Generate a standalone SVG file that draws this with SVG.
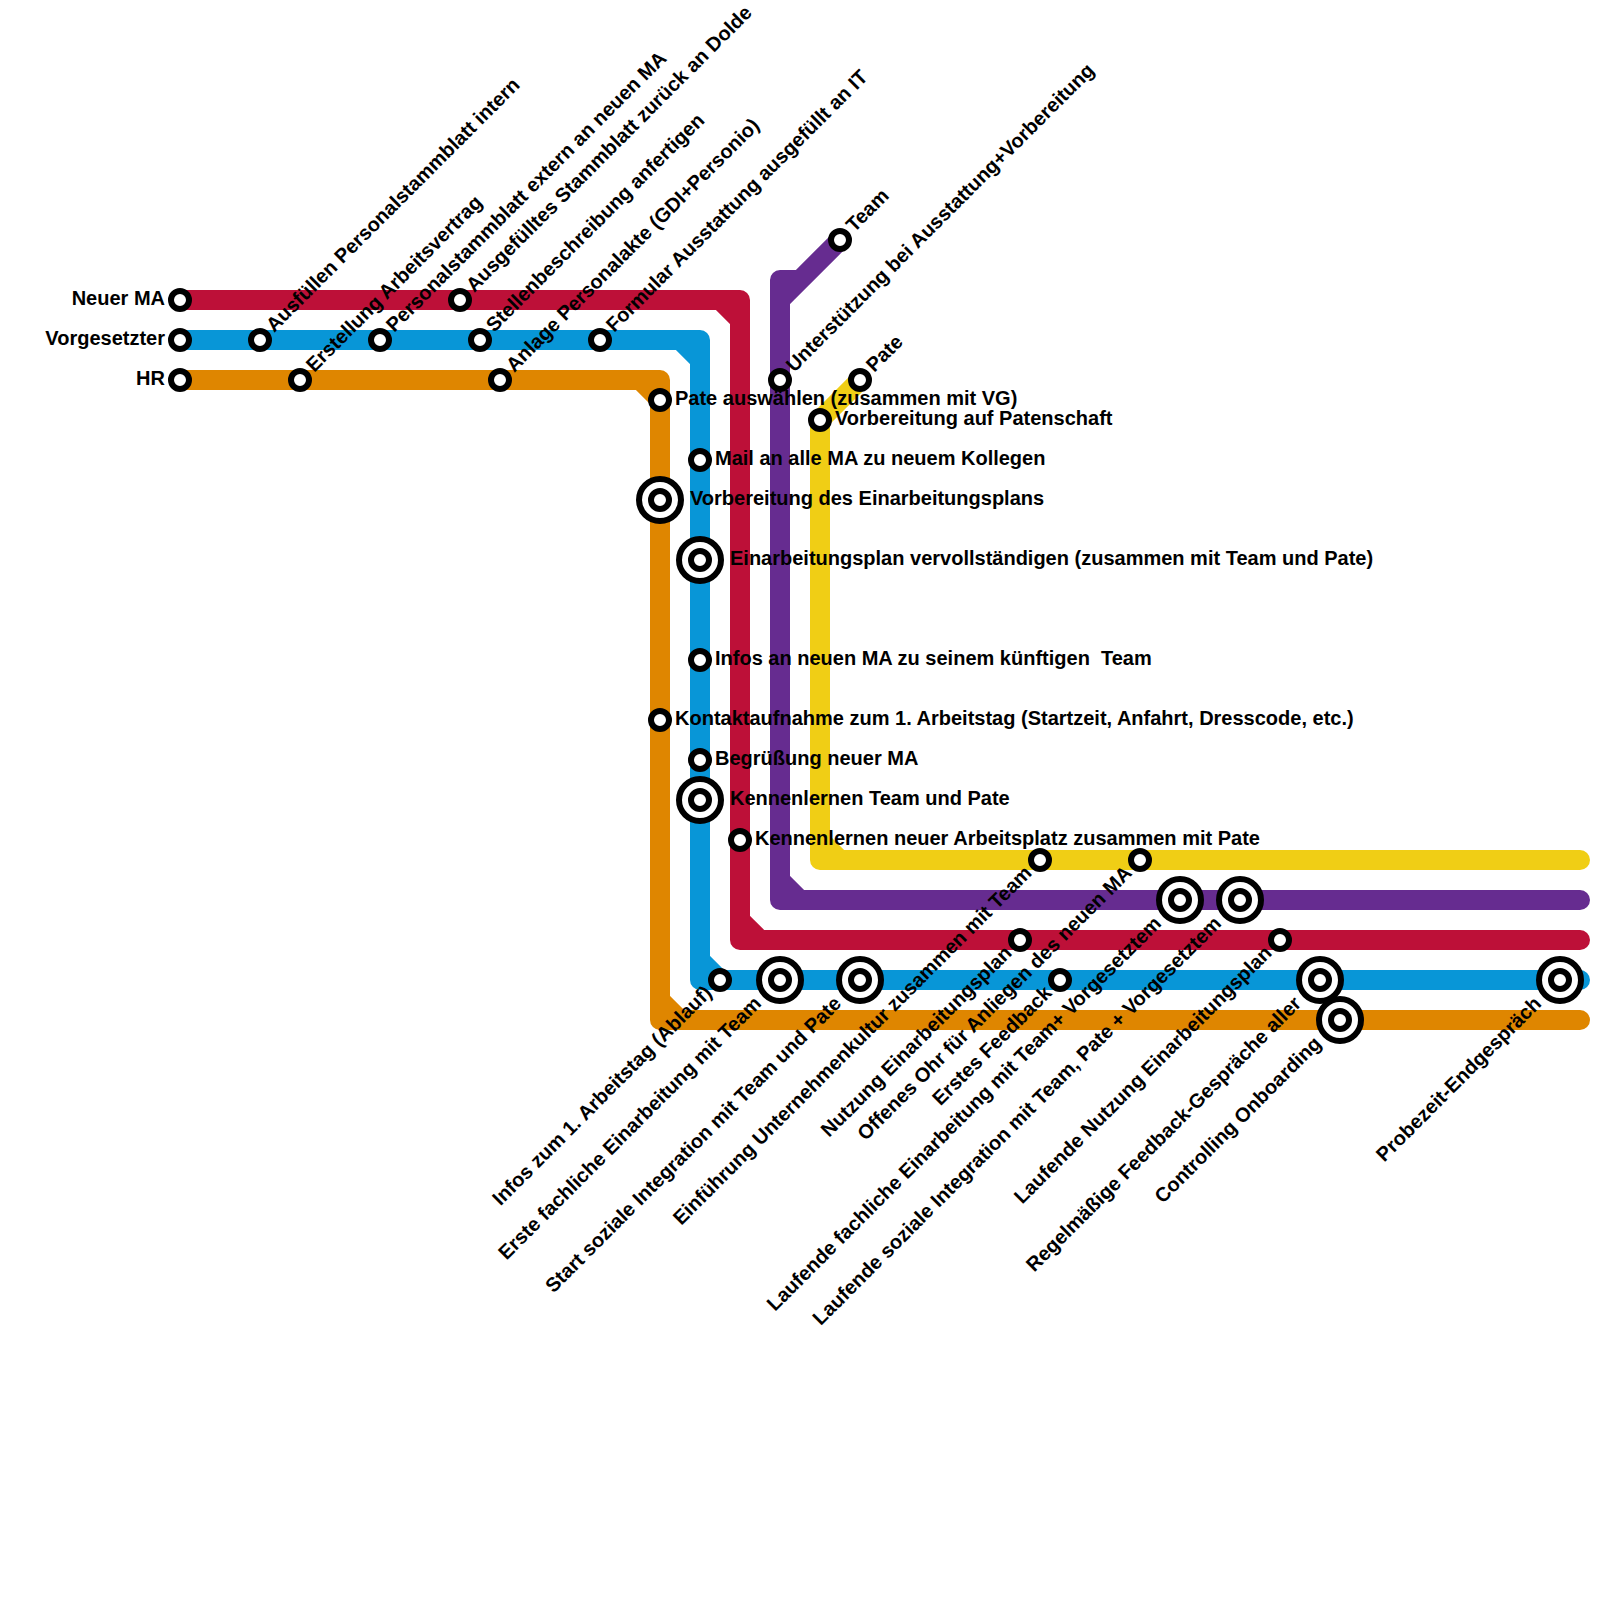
<svg xmlns="http://www.w3.org/2000/svg" width="1600" height="1600" viewBox="0 0 1600 1600">
<style>
.l{fill:none;stroke-width:20;stroke-linecap:round;stroke-linejoin:round}
.s{fill:#fff;stroke:#000;stroke-width:6}
text{font-family:"Liberation Sans",Arial,Helvetica,sans-serif;font-weight:700;font-size:20px;fill:#000;white-space:pre}
.e{text-anchor:end}
</style>
<defs>
<g id="st"><circle class="s" r="9"/></g>
<g id="bg"><circle class="s" r="21"/><circle class="s" r="9"/></g>
</defs>
<rect width="1600" height="1600" fill="#fff"/>
<g id="connectors">
<path class="l" stroke="#bd1038" d="M180 300H740V940H1580M720 300L740 320M740 920L760 940"/>
<path class="l" stroke="#0896d7" d="M180 340H700V980H1580M680 340L700 360M700 960L720 980"/>
<path class="l" stroke="#df8600" d="M180 380H660V1020H1580M640 380L660 400M660 1000L680 1020"/>
<path class="l" stroke="#662c90" d="M840 240L780 300M800 280H780V900H1580M780 880L800 900"/>
<path class="l" stroke="#f0ce15" d="M860 380L820 420V860H1580M820 840L840 860"/>
</g>
<g id="n-neuer-ma"><use href="#st" x="180" y="300"/><text class="e" x="165" y="305">Neuer MA</text></g>
<g id="n-vorgesetzter"><use href="#st" x="180" y="340"/><text class="e" x="165" y="345">Vorgesetzter</text></g>
<g id="n-hr"><use href="#st" x="180" y="380"/><text class="e" x="165" y="385">HR</text></g>
<g id="n-ausfuellen"><use href="#st" x="260" y="340"/><text transform="rotate(-45 260 340)" x="275" y="345">Ausfüllen Personalstammblatt intern</text></g>
<g id="n-erstellung"><use href="#st" x="300" y="380"/><text transform="rotate(-45 300 380)" x="315" y="385">Erstellung Arbeitsvertrag</text></g>
<g id="n-personalstammblatt"><use href="#st" x="380" y="340"/><text transform="rotate(-45 380 340)" x="395" y="345">Personalstammblatt extern an neuen MA</text></g>
<g id="n-ausgefuelltes"><use href="#st" x="460" y="300"/><text transform="rotate(-45 460 300)" x="475" y="305">Ausgefülltes Stammblatt zurück an Dolde</text></g>
<g id="n-stellenbeschreibung"><use href="#st" x="480" y="340"/><text transform="rotate(-45 480 340)" x="495" y="345">Stellenbeschreibung anfertigen</text></g>
<g id="n-anlage"><use href="#st" x="500" y="380"/><text transform="rotate(-45 500 380)" x="515" y="385">Anlage Personalakte (GDI+Personio)</text></g>
<g id="n-formular"><use href="#st" x="600" y="340"/><text transform="rotate(-45 600 340)" x="615" y="345">Formular Ausstattung ausgefüllt an IT</text></g>
<g id="n-unterstuetzung"><use href="#st" x="780" y="380"/><text transform="rotate(-45 780 380)" x="795" y="385">Unterstützung bei Ausstattung+Vorbereitung</text></g>
<g id="n-team"><use href="#st" x="840" y="240"/><text transform="rotate(-45 840 240)" x="855" y="245">Team</text></g>
<g id="n-pate"><use href="#st" x="860" y="380"/><text transform="rotate(-45 860 380)" x="875" y="385">Pate</text></g>
<g id="n-pate-auswaehlen"><use href="#st" x="660" y="400"/><text x="675" y="405">Pate auswählen (zusammen mit VG)</text></g>
<g id="n-vorbereitung-patenschaft"><use href="#st" x="820" y="420"/><text x="835" y="425">Vorbereitung auf Patenschaft</text></g>
<g id="n-mail"><use href="#st" x="700" y="460"/><text x="715" y="465">Mail an alle MA zu neuem Kollegen</text></g>
<g id="n-vorbereitung-plan"><use href="#bg" x="660" y="500"/><text x="690" y="505">Vorbereitung des Einarbeitungsplans</text></g>
<g id="n-plan-vervollstaendigen"><use href="#bg" x="700" y="560"/><text x="730" y="565">Einarbeitungsplan vervollständigen (zusammen mit Team und Pate)</text></g>
<g id="n-infos-ma"><use href="#st" x="700" y="660"/><text x="715" y="665">Infos an neuen MA zu seinem künftigen  Team</text></g>
<g id="n-kontakt"><use href="#st" x="660" y="720"/><text x="675" y="725">Kontaktaufnahme zum 1. Arbeitstag (Startzeit, Anfahrt, Dresscode, etc.)</text></g>
<g id="n-begruessung"><use href="#st" x="700" y="760"/><text x="715" y="765">Begrüßung neuer MA</text></g>
<g id="n-kennenlernen-team"><use href="#bg" x="700" y="800"/><text x="730" y="805">Kennenlernen Team und Pate</text></g>
<g id="n-kennenlernen-platz"><use href="#st" x="740" y="840"/><text x="755" y="845">Kennenlernen neuer Arbeitsplatz zusammen mit Pate</text></g>
<g id="n-infos-tag"><use href="#st" x="720" y="980"/><text class="e" transform="rotate(-45 720 980)" x="705" y="985">Infos zum 1. Arbeitstag (Ablauf)</text></g>
<g id="n-erste-fachlich"><use href="#bg" x="780" y="980"/><text class="e" transform="rotate(-45 780 980)" x="750" y="985">Erste fachliche Einarbeitung mit Team</text></g>
<g id="n-start-sozial"><use href="#bg" x="860" y="980"/><text class="e" transform="rotate(-45 860 980)" x="830" y="985">Start soziale Integration mit Team und Pate</text></g>
<g id="n-einfuehrung"><use href="#st" x="1040" y="860"/><text class="e" transform="rotate(-45 1040 860)" x="1025" y="865">Einführung Unternehmenkultur zusammen mit Team</text></g>
<g id="n-nutzung"><use href="#st" x="1020" y="940"/><text class="e" transform="rotate(-45 1020 940)" x="1005" y="945">Nutzung Einarbeitungsplan</text></g>
<g id="n-offenes-ohr"><use href="#st" x="1140" y="860"/><text class="e" transform="rotate(-45 1140 860)" x="1125" y="865">Offenes Ohr für Anliegen des neuen MA</text></g>
<g id="n-erstes-feedback"><use href="#st" x="1060" y="980"/><text class="e" transform="rotate(-45 1060 980)" x="1045" y="985">Erstes Feedback</text></g>
<g id="n-laufend-fachlich"><use href="#bg" x="1180" y="900"/><text class="e" transform="rotate(-45 1180 900)" x="1150" y="905">Laufende fachliche Einarbeitung mit Team+ Vorgesetztem</text></g>
<g id="n-laufend-sozial"><use href="#bg" x="1240" y="900"/><text class="e" transform="rotate(-45 1240 900)" x="1210" y="905">Laufende soziale Integration mit Team, Pate + Vorgesetztem</text></g>
<g id="n-laufend-nutzung"><use href="#st" x="1280" y="940"/><text class="e" transform="rotate(-45 1280 940)" x="1265" y="945">Laufende Nutzung Einarbeitungsplan</text></g>
<g id="n-regelmaessig"><use href="#bg" x="1320" y="980"/><text class="e" transform="rotate(-45 1320 980)" x="1290" y="985">Regelmäßige Feedback-Gespräche aller</text></g>
<g id="n-controlling"><use href="#bg" x="1340" y="1020"/><text class="e" transform="rotate(-45 1340 1020)" x="1310" y="1025">Controlling Onboarding</text></g>
<g id="n-probezeit"><use href="#bg" x="1560" y="980"/><text class="e" transform="rotate(-45 1560 980)" x="1530" y="985">Probezeit-Endgespräch</text></g>
</svg>
